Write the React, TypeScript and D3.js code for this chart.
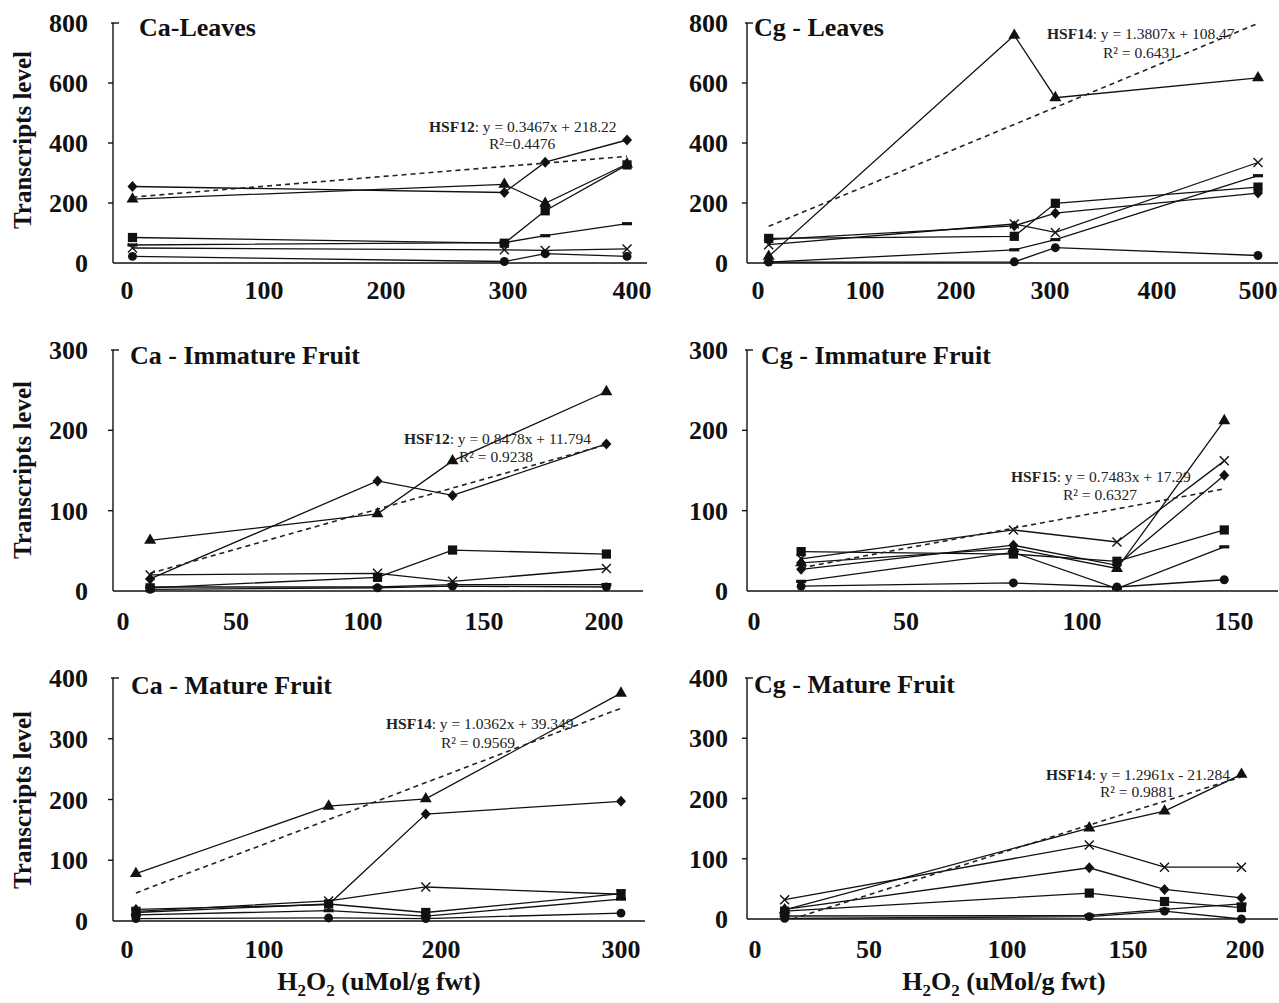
import React from "react";
import * as d3 from "d3";

type Marker = "triangle" | "diamond" | "square" | "cross" | "dash" | "circle";
const markerOrder: Marker[] = ["dash", "circle", "square", "cross", "diamond", "triangle"];

// ---- data (H2O2 levels on x, transcript levels on y) ----
const caLeavesX = [4, 297, 330, 396];
const caLeavesY: Record<Marker, number[]> = {
  diamond: [255, 235, 336, 410],
  triangle: [213, 262, 199, 330],
  square: [85, 66, 174, 327],
  dash: [60, 68, 91, 131],
  cross: [50, 44, 42, 47],
  circle: [22, 5, 31, 22],
};

const cgLeavesX = [10, 262, 305, 500];
const cgLeavesY: Record<Marker, number[]> = {
  triangle: [22, 759, 551, 617],
  cross: [61, 130, 102, 335],
  square: [82, 89, 199, 253],
  diamond: [78, 124, 166, 233],
  dash: [3, 44, 78, 291],
  circle: [3, 4, 51, 25],
};

const caImmatureX = [12, 106, 137, 201];
const caImmatureY: Record<Marker, number[]> = {
  triangle: [63, 96, 162, 248],
  diamond: [15, 137, 119, 183],
  square: [4, 17, 51, 46],
  cross: [20, 22, 12, 28],
  dash: [5, 5, 8, 8],
  circle: [2, 4, 6, 5],
};

const cgImmatureX = [15.5, 80.5, 111.5, 146.8];
const cgImmatureY: Record<Marker, number[]> = {
  triangle: [35, 53, 28, 212],
  cross: [40, 76, 61, 162],
  diamond: [27, 57, 32, 144],
  square: [49, 46, 37, 76],
  dash: [12, 48, 3, 55],
  circle: [6, 10, 5, 14],
};

const caMatureX = [6.5, 136.5, 191.4, 300];
const caMatureY: Record<Marker, number[]> = {
  triangle: [78, 189, 201, 375],
  diamond: [19, 27, 176, 197],
  cross: [16, 33, 56, 44],
  square: [14, 28, 14, 45],
  dash: [10, 17, 8, 36],
  circle: [4, 5, 4, 13],
};

const cgMatureX = [13, 134, 165.6, 198.5];
const cgMatureY: Record<Marker, number[]> = {
  triangle: [15, 151, 179, 240],
  cross: [32, 123, 86, 86],
  diamond: [16, 85, 49, 35],
  square: [13, 43, 29, 19],
  dash: [5, 6, 16, 25],
  circle: [1, 4, 13, 0],
};

const panelTitles = [
  "Ca-Leaves",
  "Cg - Leaves",
  "Ca - Immature Fruit",
  "Cg - Immature Fruit",
  "Ca - Mature Fruit",
  "Cg - Mature Fruit",
];
const xTickValues = [
  [0, 100, 200, 300, 400],
  [0, 100, 200, 300, 400, 500],
  [0, 50, 100, 150, 200],
  [0, 50, 100, 150],
  [0, 100, 200, 300],
  [0, 50, 100, 150, 200],
];
const yTickValues = [
  [0, 200, 400, 600, 800],
  [0, 200, 400, 600, 800],
  [0, 100, 200, 300],
  [0, 100, 200, 300],
  [0, 100, 200, 300, 400],
  [0, 100, 200, 300, 400],
];
const trendGenes = ["HSF12", "HSF14", "HSF12", "HSF15", "HSF14", "HSF14"];
const trendSlopes = [0.3467, 1.3807, 0.8478, 0.7483, 1.0362, 1.2961];
const trendIntercepts = [218.22, 108.47, 11.794, 17.29, 39.349, -21.284];
const trendR2Labels = ["R²=0.4476", "R² = 0.6431", "R² = 0.9238", "R² = 0.6327", "R² = 0.9569", "R² = 0.9881"];

const panelX = [caLeavesX, cgLeavesX, caImmatureX, cgImmatureX, caMatureX, cgMatureX];
const panelY = [caLeavesY, cgLeavesY, caImmatureY, cgImmatureY, caMatureY, cgMatureY];

// ---- layout ----
const layout = [
  { left: 113, right: 647, top: 23, bottom: 263, xTickPx: [127, 264, 386, 508, 632], labelEnd: 88, titleX: 139, titleY: 36, xLabelY: 299, eq: [429, 132], r2: [489, 149] },
  { left: 747, right: 1278, top: 23, bottom: 263, xTickPx: [758, 865, 956, 1050, 1157, 1258], labelEnd: 728, titleX: 754, titleY: 36, xLabelY: 299, eq: [1047, 39], r2: [1103, 58] },
  { left: 113, right: 643, top: 350, bottom: 591, xTickPx: [123, 236, 363, 484, 604], labelEnd: 88, titleX: 130, titleY: 364, xLabelY: 630, eq: [404, 444], r2: [459, 462] },
  { left: 747, right: 1278, top: 350, bottom: 591, xTickPx: [754, 906, 1082, 1234], labelEnd: 728, titleX: 761, titleY: 364, xLabelY: 630, eq: [1011, 482], r2: [1063, 500] },
  { left: 113, right: 645, top: 678, bottom: 921, xTickPx: [127, 264, 441, 621], labelEnd: 88, titleX: 131, titleY: 694, xLabelY: 958, eq: [386, 729], r2: [441, 748] },
  { left: 747, right: 1278, top: 678, bottom: 919, xTickPx: [755, 869, 1007, 1128, 1245], labelEnd: 728, titleX: 754, titleY: 693, xLabelY: 958, eq: [1046, 780], r2: [1100, 797] },
];

const ink = "#111";

function markerShape(m: Marker) {
  switch (m) {
    case "diamond":
      return { d: "M0,-5.5L5,0L0,5.5L-5,0Z", fill: ink, stroke: "none" };
    case "square":
      return { d: d3.symbol(d3.symbolSquare, 85)() as string, fill: ink, stroke: "none" };
    case "triangle":
      return { d: d3.symbol(d3.symbolTriangle, 62)() as string, fill: ink, stroke: "none" };
    case "circle":
      return { d: d3.symbol(d3.symbolCircle, 62)() as string, fill: ink, stroke: "none" };
    case "cross":
      return { d: "M-4.5,-4.5L4.5,4.5M-4.5,4.5L4.5,-4.5", fill: "none", stroke: ink };
    case "dash":
      return { d: "M-5,-1.6H5V1.6H-5Z", fill: ink, stroke: "none" };
  }
}

function Panel({ i }: { i: number }) {
  const L = layout[i];
  const xTicks = xTickValues[i];
  const yTicks = yTickValues[i];
  const xs = d3.scaleLinear().domain(xTicks).range(L.xTickPx);
  const ys = d3.scaleLinear().domain([0, yTicks[yTicks.length - 1]]).range([L.bottom, L.top]);
  const xv = panelX[i];
  const series = panelY[i];
  const line = d3
    .line<[number, number]>()
    .x((d) => xs(d[0]))
    .y((d) => ys(d[1]));

  const slope = trendSlopes[i];
  const intercept = trendIntercepts[i];
  const tx0 = intercept < 0 ? Math.max(xv[0], -intercept / slope) : xv[0];
  const tx1 = xv[xv.length - 1];
  const trend: [number, number][] = [
    [tx0, slope * tx0 + intercept],
    [tx1, slope * tx1 + intercept],
  ];
  const eqText = `: y = ${slope}x ${intercept < 0 ? "-" : "+"} ${Math.abs(intercept)}`;
  const yMax = yTicks[yTicks.length - 1];

  return (
    <g>
      {/* axes */}
      <line x1={L.left} x2={L.left} y1={ys(yMax)} y2={L.bottom} stroke={ink} strokeWidth={1.4} />
      <line x1={L.left} x2={L.right} y1={L.bottom} y2={L.bottom} stroke={ink} strokeWidth={1.4} />
      {yTicks.map((t) =>
        t === 0 ? null : t === yMax ? (
          <line key={t} x1={L.left - 2} x2={L.left + 6} y1={ys(t)} y2={ys(t)} stroke={ink} strokeWidth={1.4} />
        ) : (
          <line key={t} x1={L.left - 5} x2={L.left} y1={ys(t)} y2={ys(t)} stroke={ink} strokeWidth={1.4} />
        )
      )}
      {yTicks.map((t) => (
        <text key={"yl" + t} x={L.labelEnd} y={ys(t) + 9} textAnchor="end" fontSize={26} fontWeight="bold" fill={ink}>
          {t}
        </text>
      ))}
      {xTicks.map((t) => (
        <text key={"xl" + t} x={xs(t)} y={L.xLabelY} textAnchor="middle" fontSize={26} fontWeight="bold" fill={ink}>
          {t}
        </text>
      ))}
      <text x={L.titleX} y={L.titleY} fontSize={26} fontWeight="bold" fill={ink}>
        {panelTitles[i]}
      </text>

      {/* series lines */}
      {markerOrder.map((m) => (
        <path
          key={"l" + m}
          d={line(xv.map((x, k) => [x, series[m][k]] as [number, number])) as string}
          fill="none"
          stroke={ink}
          strokeWidth={1.3}
        />
      ))}
      {/* trend line */}
      <path d={line(trend) as string} fill="none" stroke="#222" strokeWidth={1.6} strokeDasharray="5,4" />
      {/* markers */}
      {markerOrder.map((m) => {
        const s = markerShape(m);
        return xv.map((x, k) => (
          <path
            key={m + k}
            d={s.d}
            transform={`translate(${xs(x)},${ys(series[m][k])})`}
            fill={s.fill}
            stroke={s.stroke}
            strokeWidth={1.4}
          />
        ));
      })}

      {/* trend annotation */}
      <text x={L.eq[0]} y={L.eq[1]} fontSize={15.5} fill="#222">
        <tspan fontWeight="bold">{trendGenes[i]}</tspan>
        <tspan>{eqText}</tspan>
      </text>
      <text x={L.r2[0]} y={L.r2[1]} fontSize={15.5} fill="#222">
        {trendR2Labels[i]}
      </text>
    </g>
  );
}

const yTitleCenters = [140, 470, 800];
const xTitleCenters = [379, 1004];

export default function App() {
  return (
    <svg
      width={1279}
      height={1003}
      style={{ position: "absolute", left: 0, top: 0, background: "#fff" }}
      fontFamily="'Liberation Serif', 'Times New Roman', serif"
    >
      <rect width={1279} height={1003} fill="#fff" />
      {layout.map((_, i) => (
        <Panel key={i} i={i} />
      ))}
      {yTitleCenters.map((cy) => (
        <text
          key={cy}
          transform={`translate(31,${cy}) rotate(-90)`}
          textAnchor="middle"
          fontSize={25}
          fontWeight="bold"
          fill={ink}
        >
          Transcripts level
        </text>
      ))}
      {xTitleCenters.map((cx) => (
        <text key={cx} x={cx} y={990} textAnchor="middle" fontSize={26} fontWeight="bold" fill={ink}>
          H<tspan dy={6} fontSize={17}>2</tspan>
          <tspan dy={-6}>O</tspan>
          <tspan dy={6} fontSize={17}>2</tspan>
          <tspan dy={-6}> (uMol/g fwt)</tspan>
        </text>
      ))}
    </svg>
  );
}
